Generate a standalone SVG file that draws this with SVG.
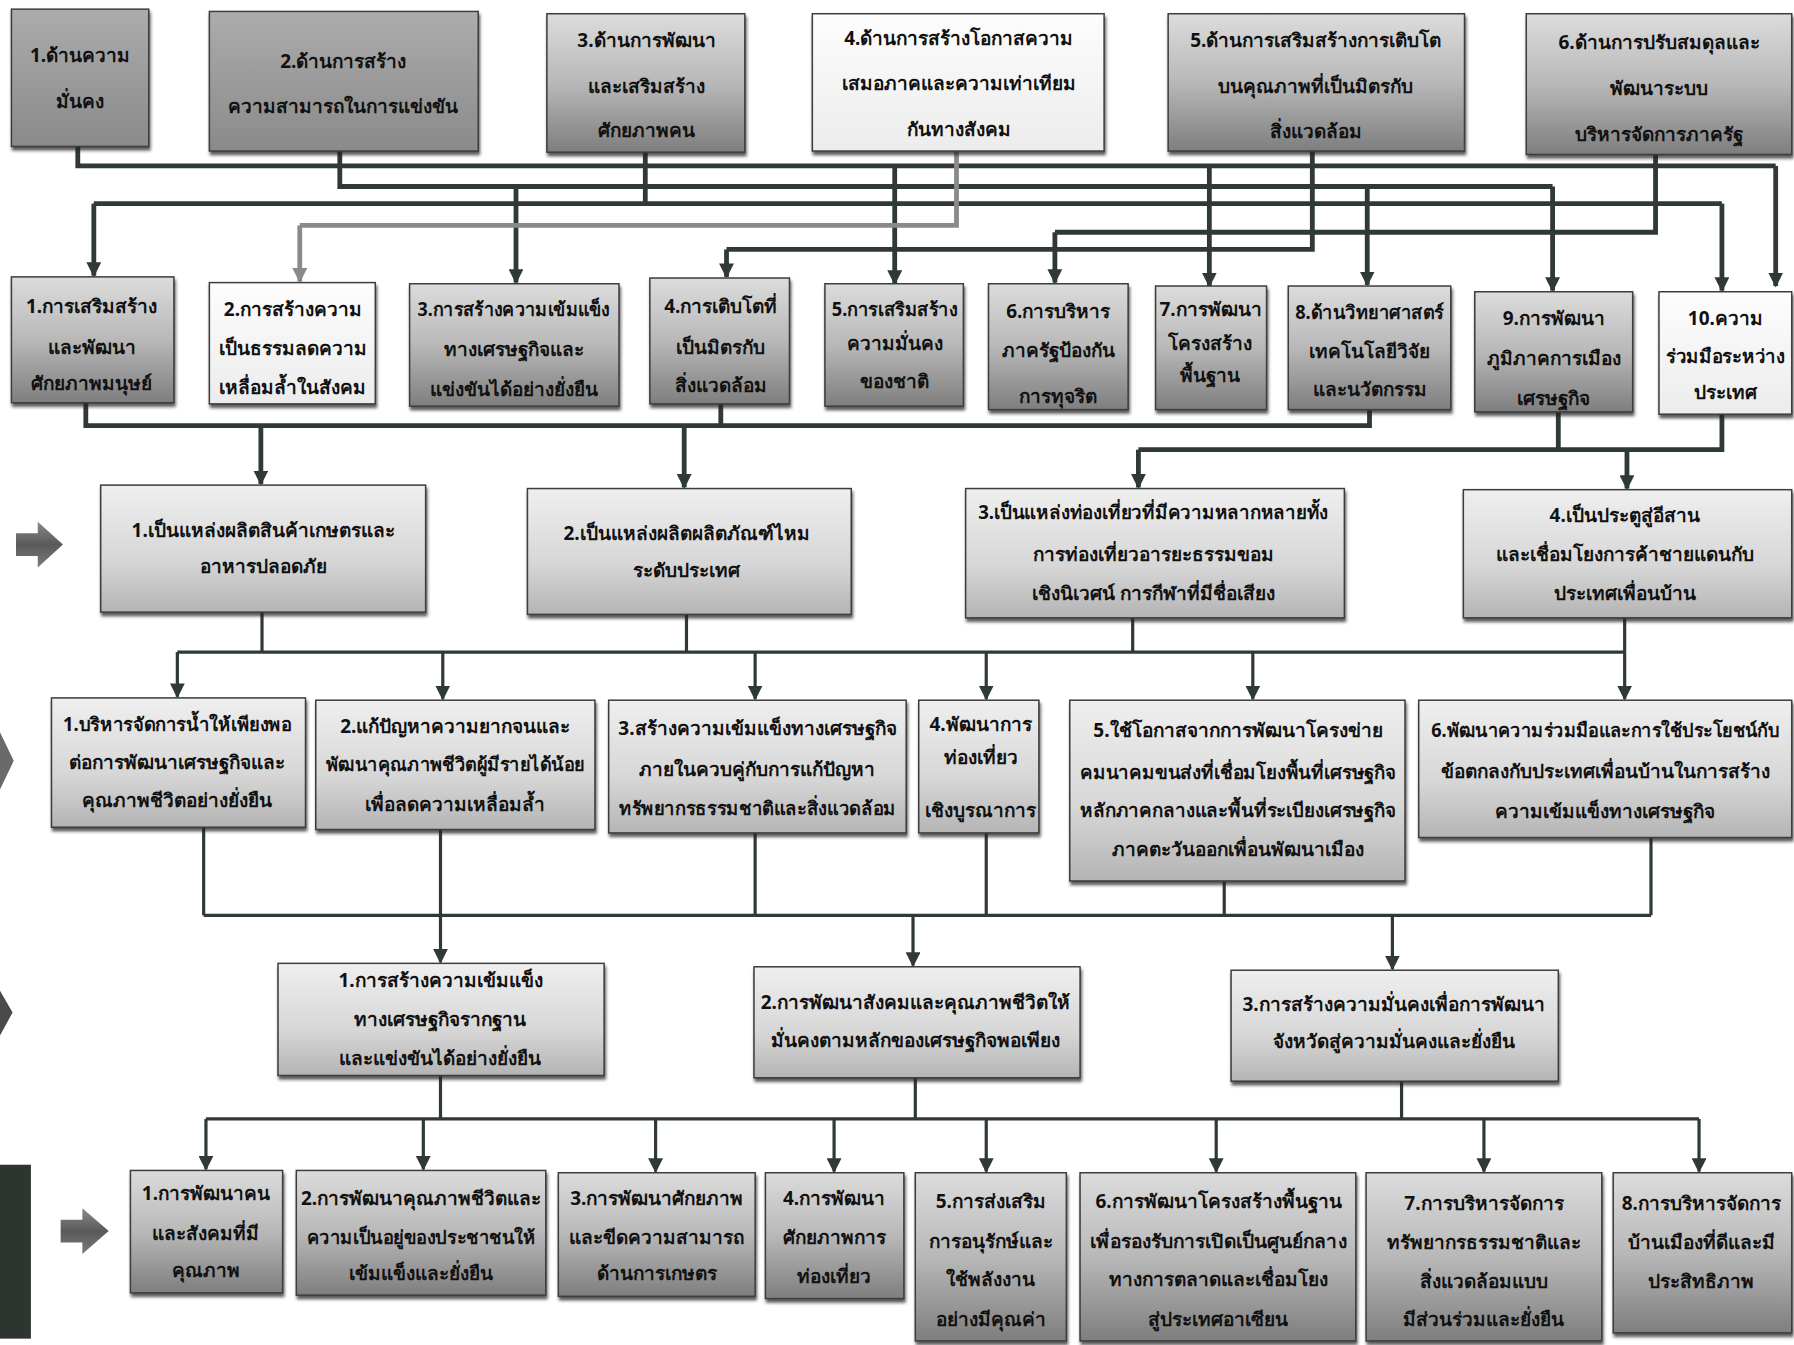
<svg xmlns="http://www.w3.org/2000/svg" width="1794" height="1345" viewBox="0 0 1794 1345">
<defs>
<linearGradient id="gD" x1="0" y1="0" x2="0" y2="1"><stop offset="0" stop-color="#dcdcdc"/><stop offset="0.5" stop-color="#b8b8b8"/><stop offset="1" stop-color="#7e7e7e"/></linearGradient>
<linearGradient id="gM" x1="0" y1="0" x2="0" y2="1"><stop offset="0" stop-color="#acacac"/><stop offset="1" stop-color="#8a8a8a"/></linearGradient>
<linearGradient id="gL" x1="0" y1="0" x2="0" y2="1"><stop offset="0" stop-color="#efefef"/><stop offset="0.6" stop-color="#d6d6d6"/><stop offset="1" stop-color="#b4b4b4"/></linearGradient>
<linearGradient id="gW" x1="0" y1="0" x2="0" y2="1"><stop offset="0" stop-color="#fdfdfd"/><stop offset="1" stop-color="#ececec"/></linearGradient>
<linearGradient id="gA" x1="0" y1="0" x2="0" y2="1"><stop offset="0" stop-color="#8a8a8a"/><stop offset="0.5" stop-color="#5a5a5a"/><stop offset="1" stop-color="#7a7a7a"/></linearGradient>
<filter id="sh" x="-10%" y="-10%" width="130%" height="130%"><feDropShadow dx="1" dy="3" stdDeviation="1.2" flood-color="#222" flood-opacity="0.75"/></filter>
<marker id="ah" viewBox="0 0 10 10" refX="9" refY="5" markerWidth="13" markerHeight="13" markerUnits="userSpaceOnUse" orient="auto"><path d="M0,0 L10,5 L0,10 z" fill="#2f3a34"/></marker>
<marker id="ahg" viewBox="0 0 10 10" refX="9" refY="5" markerWidth="13" markerHeight="13" markerUnits="userSpaceOnUse" orient="auto"><path d="M0,0 L10,5 L0,10 z" fill="#8a8a8a"/></marker>
<style>
.bx{stroke:#3c3c3c;stroke-width:1.3;filter:url(#sh)}
.d{fill:url(#gD)}
.m{fill:url(#gM)}
.l{fill:url(#gL)}
.w{fill:url(#gW)}
text{font-family:"Noto Sans","DejaVu Sans","Liberation Sans",sans-serif;font-weight:bold;font-size:16.6px;fill:#111;text-anchor:middle}
.c path{fill:none;stroke:#2f3a34;stroke-width:4.2}
.c path.g{stroke:#8a8a8a}
.c path.a{marker-end:url(#ah)}
.c path.ga{marker-end:url(#ahg)}
.c2 path{stroke-width:2.8}
</style>
</defs>
<rect x="0" y="0" width="1794" height="1345" fill="#ffffff"/>
<g transform="scale(1.14413)">

<g id="connectors" class="c">
 <path d="M68,128 V145 H1552"/>
 <path class="a" d="M1552,145 V250"/>
 <path class="a" d="M782,145 V248"/>
 <path class="a" d="M1057,145 V250"/>
 <path d="M297,132 V163 H1357"/>
 <path class="a" d="M1357,163 V254"/>
 <path class="a" d="M451,163 V247"/>
 <path class="a" d="M1195,163 V249"/>
 <path d="M564,133 V178"/>
 <path d="M82,178 H1505"/>
 <path class="a" d="M82,178 V241"/>
 <path class="a" d="M1505,178 V254"/>
 <path class="g" d="M836,132 V197 H262"/>
 <path class="g ga" d="M262,197 V246"/>
 <path d="M1447,135 V203 H922"/>
 <path class="a" d="M922,203 V247"/>
 <path d="M1147,132 V218 H635"/>
 <path class="a" d="M635,218 V242"/>

 <path d="M75,352 V372 H1197 V358"/>
 <path d="M630,353 V372"/>
 <path class="a" d="M228,372 V423"/>
 <path class="a" d="M598,372 V426"/>
 <path d="M1362,360 V393"/>
 <path d="M1505,362 V393 H995"/>
 <path class="a" d="M995,393 V426"/>
 <path class="a" d="M1422,393 V427"/>

 <g class="c2">
 <path d="M229,535 V570"/>
 <path d="M600,537 V570"/>
 <path d="M990,540 V570"/>
 <path d="M1420,540 V570"/>
 <path d="M155,570 H1420"/>
 <path class="a" d="M155,570 V609"/>
 <path class="a" d="M387,570 V611"/>
 <path class="a" d="M660,570 V611"/>
 <path class="a" d="M862,570 V611"/>
 <path class="a" d="M1095,570 V611"/>
 <path class="a" d="M1420,570 V611"/>

 <path d="M178,723 V800"/>
 <path d="M385,725 V800"/>
 <path d="M660,728 V800"/>
 <path d="M862,728 V800"/>
 <path d="M1070,770 V800"/>
 <path d="M1443,732 V800"/>
 <path d="M178,800 H1443"/>
 <path class="a" d="M385,800 V841"/>
 <path class="a" d="M798,800 V844"/>
 <path class="a" d="M1217,800 V847"/>

 <path d="M385,940 V978"/>
 <path d="M800,942 V978"/>
 <path d="M1225,945 V978"/>
 <path d="M180,978 H1485"/>
 <path class="a" d="M180,978 V1022"/>
 <path class="a" d="M370,978 V1022"/>
 <path class="a" d="M573,978 V1024"/>
 <path class="a" d="M729,978 V1024"/>
 <path class="a" d="M862,978 V1024"/>
 <path class="a" d="M1063,978 V1024"/>
 <path class="a" d="M1297,978 V1024"/>
 <path class="a" d="M1485,978 V1024"/>
 </g>
</g>

<!-- left decorations -->
<path d="M14,466 H33 V456 L55,476 L33,496 V486 H14 Z" fill="url(#gA)"/>
<path d="M0,640 L12,665 L0,690 Z" fill="#6a6a6a"/>
<path d="M0,866 L11,885 L0,905 Z" fill="#4a4a4a"/>
<rect x="0" y="1018" width="27" height="152" fill="#2e3430"/>
<path d="M53,1066 H72 V1056 L95,1076 L72,1096 V1086 H53 Z" fill="url(#gA)"/>

<!-- Row 1 -->
<g id="r1n1"><rect class="bx m" x="10" y="8" width="120" height="120"/><text x="70" y="54">1.ด้านความ</text><text x="70" y="94">มั่นคง</text></g>
<g id="r1n2"><rect class="bx m" x="183" y="10" width="235" height="122"/><text x="300" y="59">2.ด้านการสร้าง</text><text x="300" y="99">ความสามารถในการแข่งขัน</text></g>
<g id="r1n3"><rect class="bx d" x="478" y="12" width="173" height="121"/><text x="565" y="41">3.ด้านการพัฒนา</text><text x="565" y="81">และเสริมสร้าง</text><text x="565" y="120">ศักยภาพคน</text></g>
<g id="r1n4"><rect class="bx w" x="710" y="12" width="255" height="120"/><text x="838" y="39">4.ด้านการสร้างโอกาสความ</text><text x="838" y="79">เสมอภาคและความเท่าเทียม</text><text x="838" y="119">กันทางสังคม</text></g>
<g id="r1n5"><rect class="bx d" x="1021" y="12" width="259" height="120"/><text x="1150" y="41">5.ด้านการเสริมสร้างการเติบโต</text><text x="1150" y="81">บนคุณภาพที่เป็นมิตรกับ</text><text x="1150" y="121">สิ่งแวดล้อม</text></g>
<g id="r1n6"><rect class="bx d" x="1334" y="12" width="232" height="123"/><text x="1450" y="43">6.ด้านการปรับสมดุลและ</text><text x="1450" y="83">พัฒนาระบบ</text><text x="1450" y="123">บริหารจัดการภาครัฐ</text></g>

<!-- Row 2 -->
<g id="r2n1"><rect class="bx d" x="10" y="242" width="142" height="110"/><text x="80" y="274">1.การเสริมสร้าง</text><text x="80" y="309">และพัฒนา</text><text x="80" y="341">ศักยภาพมนุษย์</text></g>
<g id="r2n2"><rect class="bx w" x="183" y="247" width="145" height="106"/><text x="256" y="276">2.การสร้างความ</text><text x="256" y="310">เป็นธรรมลดความ</text><text x="256" y="344">เหลื่อมล้ำในสังคม</text></g>
<g id="r2n3"><rect class="bx d" x="358" y="248" width="183" height="107"/><text x="449" y="276" textLength="168" lengthAdjust="spacingAndGlyphs">3.การสร้างความเข้มแข็ง</text><text x="449" y="311">ทางเศรษฐกิจและ</text><text x="449" y="346">แข่งขันได้อย่างยั่งยืน</text></g>
<g id="r2n4"><rect class="bx d" x="568" y="243" width="122" height="110"/><text x="630" y="274">4.การเติบโตที่</text><text x="630" y="309">เป็นมิตรกับ</text><text x="630" y="343">สิ่งแวดล้อม</text></g>
<g id="r2n5"><rect class="bx d" x="721" y="248" width="121" height="107"/><text x="782" y="276" textLength="110" lengthAdjust="spacingAndGlyphs">5.การเสริมสร้าง</text><text x="782" y="306">ความมั่นคง</text><text x="782" y="339">ของชาติ</text></g>
<g id="r2n6"><rect class="bx d" x="864" y="248" width="122" height="110"/><text x="925" y="278">6.การบริหาร</text><text x="925" y="312">ภาครัฐป้องกัน</text><text x="925" y="352">การทุจริต</text></g>
<g id="r2n7"><rect class="bx d" x="1010" y="250" width="97" height="108"/><text x="1058" y="276">7.การพัฒนา</text><text x="1058" y="306">โครงสร้าง</text><text x="1058" y="334">พื้นฐาน</text></g>
<g id="r2n8"><rect class="bx d" x="1126" y="250" width="142" height="108"/><text x="1197" y="279" textLength="130" lengthAdjust="spacingAndGlyphs">8.ด้านวิทยาศาสตร์</text><text x="1197" y="313">เทคโนโลยีวิจัย</text><text x="1197" y="346">และนวัตกรรม</text></g>
<g id="r2n9"><rect class="bx d" x="1289" y="255" width="138" height="105"/><text x="1358" y="284">9.การพัฒนา</text><text x="1358" y="319">ภูมิภาคการเมือง</text><text x="1358" y="354">เศรษฐกิจ</text></g>
<g id="r2n10"><rect class="bx w" x="1450" y="255" width="116" height="107"/><text x="1508" y="284">10.ความ</text><text x="1508" y="317" textLength="104" lengthAdjust="spacingAndGlyphs">ร่วมมือระหว่าง</text><text x="1508" y="349">ประเทศ</text></g>

<!-- Row 3 -->
<g id="r3n1"><rect class="bx l" x="88" y="424" width="284" height="111"/><text x="230" y="469">1.เป็นแหล่งผลิตสินค้าเกษตรและ</text><text x="230" y="501">อาหารปลอดภัย</text></g>
<g id="r3n2"><rect class="bx l" x="461" y="427" width="283" height="110"/><text x="600" y="472">2.เป็นแหล่งผลิตผลิตภัณฑ์ไหม</text><text x="600" y="504">ระดับประเทศ</text></g>
<g id="r3n3"><rect class="bx l" x="844" y="427" width="331" height="113"/><text x="1008" y="454" textLength="306" lengthAdjust="spacingAndGlyphs">3.เป็นแหล่งท่องเที่ยวที่มีความหลากหลายทั้ง</text><text x="1008" y="490">การท่องเที่ยวอารยะธรรมขอม</text><text x="1008" y="524">เชิงนิเวศน์ การกีฬาที่มีชื่อเสียง</text></g>
<g id="r3n4"><rect class="bx l" x="1279" y="428" width="287" height="112"/><text x="1420" y="456">4.เป็นประตูสู่อีสาน</text><text x="1420" y="490">และเชื่อมโยงการค้าชายแดนกับ</text><text x="1420" y="524">ประเทศเพื่อนบ้าน</text></g>

<!-- Row 4 -->
<g id="r4n1"><rect class="bx l" x="45" y="610" width="222" height="113"/><text x="155" y="639" textLength="200" lengthAdjust="spacingAndGlyphs">1.บริหารจัดการน้ำให้เพียงพอ</text><text x="155" y="672">ต่อการพัฒนาเศรษฐกิจและ</text><text x="155" y="705">คุณภาพชีวิตอย่างยั่งยืน</text></g>
<g id="r4n2"><rect class="bx l" x="276" y="612" width="244" height="113"/><text x="398" y="641">2.แก้ปัญหาความยากจนและ</text><text x="398" y="674" textLength="226" lengthAdjust="spacingAndGlyphs">พัฒนาคุณภาพชีวิตผู้มีรายได้น้อย</text><text x="398" y="709">เพื่อลดความเหลื่อมล้ำ</text></g>
<g id="r4n3"><rect class="bx l" x="532" y="612" width="260" height="116"/><text x="662" y="642">3.สร้างความเข้มแข็งทางเศรษฐกิจ</text><text x="662" y="678">ภายในควบคู่กับการแก้ปัญหา</text><text x="662" y="712" textLength="242" lengthAdjust="spacingAndGlyphs">ทรัพยากรธรรมชาติและสิ่งแวดล้อม</text></g>
<g id="r4n4"><rect class="bx l" x="803" y="612" width="105" height="116"/><text x="857" y="639">4.พัฒนาการ</text><text x="857" y="668">ท่องเที่ยว</text><text x="857" y="714">เชิงบูรณาการ</text></g>
<g id="r4n5"><rect class="bx l" x="935" y="612" width="293" height="158"/><text x="1082" y="644">5.ใช้โอกาสจากการพัฒนาโครงข่าย</text><text x="1082" y="681" textLength="276" lengthAdjust="spacingAndGlyphs">คมนาคมขนส่งที่เชื่อมโยงพื้นที่เศรษฐกิจ</text><text x="1082" y="714" textLength="276" lengthAdjust="spacingAndGlyphs">หลักภาคกลางและพื้นที่ระเบียงเศรษฐกิจ</text><text x="1082" y="748">ภาคตะวันออกเพื่อนพัฒนาเมือง</text></g>
<g id="r4n6"><rect class="bx l" x="1240" y="612" width="326" height="120"/><text x="1403" y="644" textLength="304" lengthAdjust="spacingAndGlyphs">6.พัฒนาความร่วมมือและการใช้ประโยชน์กับ</text><text x="1403" y="680">ข้อตกลงกับประเทศเพื่อนบ้านในการสร้าง</text><text x="1403" y="715">ความเข้มแข็งทางเศรษฐกิจ</text></g>

<!-- Row 5 -->
<g id="r5n1"><rect class="bx l" x="243" y="842" width="285" height="98"/><text x="385" y="863">1.การสร้างความเข้มแข็ง</text><text x="385" y="897">ทางเศรษฐกิจรากฐาน</text><text x="385" y="931">และแข่งขันได้อย่างยั่งยืน</text></g>
<g id="r5n2"><rect class="bx l" x="659" y="845" width="285" height="97"/><text x="800" y="882">2.การพัฒนาสังคมและคุณภาพชีวิตให้</text><text x="800" y="915">มั่นคงตามหลักของเศรษฐกิจพอเพียง</text></g>
<g id="r5n3"><rect class="bx l" x="1076" y="848" width="286" height="97"/><text x="1218" y="884">3.การสร้างความมั่นคงเพื่อการพัฒนา</text><text x="1218" y="916">จังหวัดสู่ความมั่นคงและยั่งยืน</text></g>

<!-- Row 6 -->
<g id="r6n1"><rect class="bx d" x="114" y="1023" width="133" height="107"/><text x="180" y="1049">1.การพัฒนาคน</text><text x="180" y="1084">และสังคมที่มี</text><text x="180" y="1116">คุณภาพ</text></g>
<g id="r6n2"><rect class="bx d" x="259" y="1023" width="218" height="109"/><text x="368" y="1053">2.การพัฒนาคุณภาพชีวิตและ</text><text x="368" y="1087" textLength="200" lengthAdjust="spacingAndGlyphs">ความเป็นอยู่ของประชาชนให้</text><text x="368" y="1119">เข้มแข็งและยั่งยืน</text></g>
<g id="r6n3"><rect class="bx d" x="488" y="1025" width="172" height="108"/><text x="574" y="1053">3.การพัฒนาศักยภาพ</text><text x="574" y="1087">และขีดความสามารถ</text><text x="574" y="1119">ด้านการเกษตร</text></g>
<g id="r6n4"><rect class="bx d" x="669" y="1025" width="121" height="110"/><text x="729" y="1053">4.การพัฒนา</text><text x="729" y="1087">ศักยภาพการ</text><text x="729" y="1121">ท่องเที่ยว</text></g>
<g id="r6n5"><rect class="bx d" x="800" y="1025" width="132" height="147"/><text x="866" y="1056">5.การส่งเสริม</text><text x="866" y="1091">การอนุรักษ์และ</text><text x="866" y="1124">ใช้พลังงาน</text><text x="866" y="1159">อย่างมีคุณค่า</text></g>
<g id="r6n6"><rect class="bx d" x="944" y="1025" width="241" height="147"/><text x="1065" y="1056">6.การพัฒนาโครงสร้างพื้นฐาน</text><text x="1065" y="1091" textLength="224" lengthAdjust="spacingAndGlyphs">เพื่อรองรับการเปิดเป็นศูนย์กลาง</text><text x="1065" y="1124">ทางการตลาดและเชื่อมโยง</text><text x="1065" y="1159">สู่ประเทศอาเซียน</text></g>
<g id="r6n7"><rect class="bx d" x="1194" y="1025" width="206" height="147"/><text x="1297" y="1058">7.การบริหารจัดการ</text><text x="1297" y="1092">ทรัพยากรธรรมชาติและ</text><text x="1297" y="1126">สิ่งแวดล้อมแบบ</text><text x="1297" y="1159">มีส่วนร่วมและยั่งยืน</text></g>
<g id="r6n8"><rect class="bx d" x="1410" y="1025" width="156" height="140"/><text x="1487" y="1058">8.การบริหารจัดการ</text><text x="1487" y="1092">บ้านเมืองที่ดีและมี</text><text x="1487" y="1126">ประสิทธิภาพ</text></g>

</g>
</svg>
